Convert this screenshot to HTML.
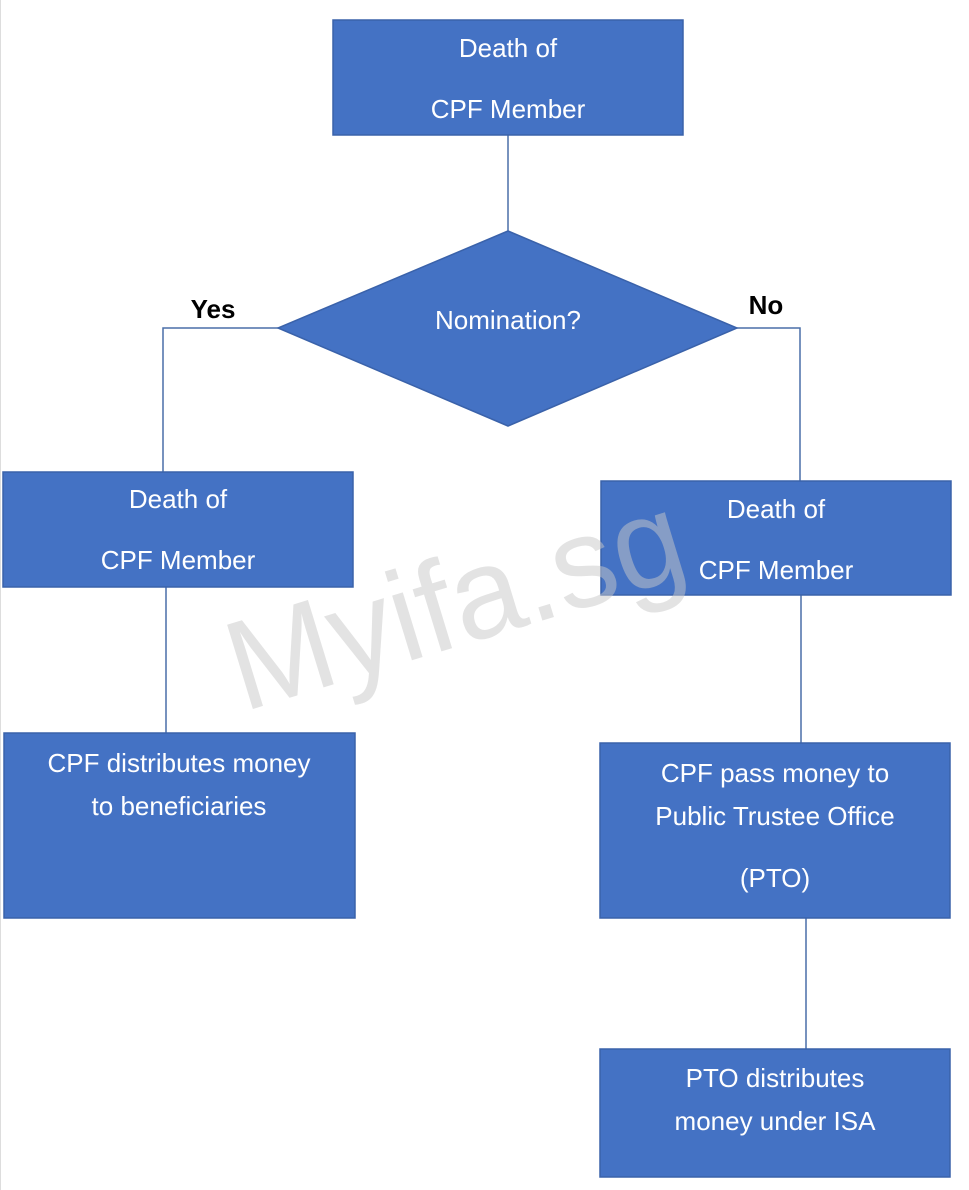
<!DOCTYPE html>
<html><head><meta charset="utf-8"><style>
html,body{margin:0;padding:0;background:#fff;}
svg{display:block}
text{font-family:"Liberation Sans",sans-serif;}
</style></head><body>
<svg width="969" height="1190" viewBox="0 0 969 1190" xmlns="http://www.w3.org/2000/svg">
<rect width="969" height="1190" fill="#fff"/>
<line x1="0.5" y1="0" x2="0.5" y2="1190" stroke="#ddd"/>
<g stroke="#4a6fa8" stroke-width="1.5" fill="none">
<line x1="508" y1="135" x2="508" y2="231"/>
<polyline points="278,328 163,328 163,472"/>
<polyline points="737,328 800,328 800,481"/>
<line x1="166" y1="587" x2="166" y2="733"/>
<line x1="801" y1="595" x2="801" y2="743"/>
<line x1="806" y1="918" x2="806" y2="1049"/>
</g>
<g fill="#4472C4" stroke="#3a62aa" stroke-width="1.5">
<rect x="333" y="20" width="350" height="115"/>
<polygon points="508,231 737,328 508,426 278,328"/>
<rect x="3" y="472" width="350" height="115"/>
<rect x="601" y="481" width="350" height="114"/>
<rect x="4" y="733" width="351" height="185"/>
<rect x="600" y="743" width="350" height="175"/>
<rect x="600" y="1049" width="350" height="128"/>
</g>
<text x="243" y="712" transform="rotate(-17 243 712)" font-size="128" fill="#c8c8c8" fill-opacity="0.5" textLength="470" lengthAdjust="spacingAndGlyphs">Myifa.sg</text>
<g fill="#fff" font-size="26" text-anchor="middle">
<text x="508" y="57">Death of</text>
<text x="508" y="118">CPF Member</text>
<text x="508" y="329">Nomination?</text>
<text x="178" y="508">Death of</text>
<text x="178" y="569">CPF Member</text>
<text x="776" y="518">Death of</text>
<text x="776" y="579">CPF Member</text>
<text x="179" y="772">CPF distributes money</text>
<text x="179" y="815">to beneficiaries</text>
<text x="775" y="782">CPF pass money to</text>
<text x="775" y="825">Public Trustee Office</text>
<text x="775" y="887">(PTO)</text>
<text x="775" y="1087">PTO distributes</text>
<text x="775" y="1130">money under ISA</text>
</g>
<g fill="#000" font-size="26" font-weight="bold" text-anchor="middle">
<text x="213" y="318">Yes</text>
<text x="766" y="314">No</text>
</g>
</svg>
</body></html>
